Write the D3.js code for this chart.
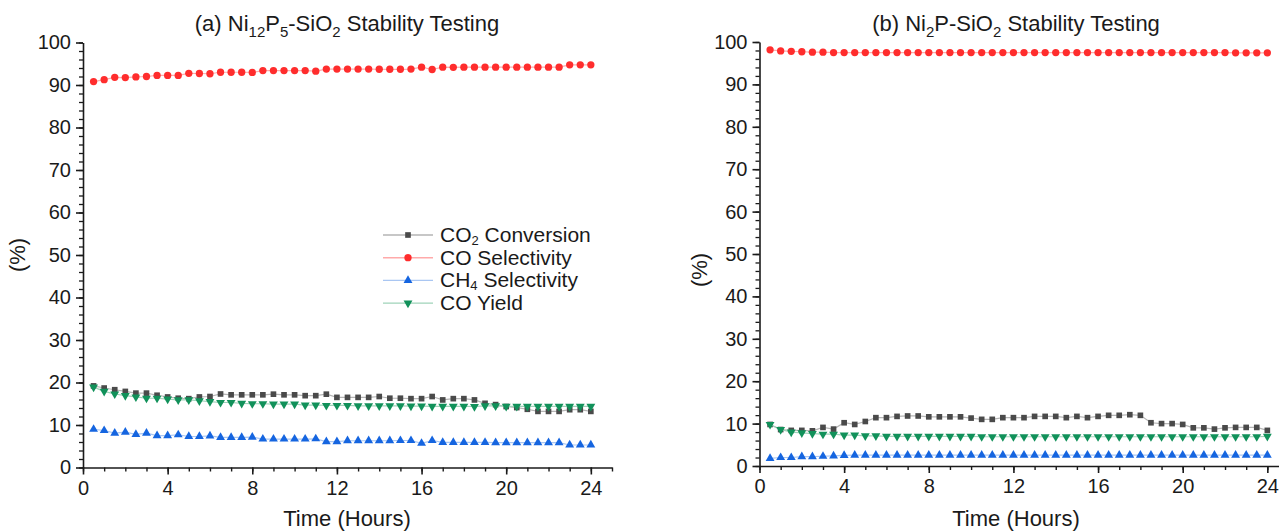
<!DOCTYPE html>
<html>
<head>
<meta charset="utf-8">
<script src="https://cdn.jsdelivr.net/npm/d3@7/dist/d3.min.js"></script>
<style>
  html, body { margin: 0; padding: 0; background: #fff; }
  svg { display: block; font-family: "Liberation Sans", Arial, Helvetica, sans-serif; }
</style>
</head>
<body>
<svg id="chart" width="1279" height="532"></svg>
<script>
// Sampling times (hours) shared by both stability runs
const hours = [0.5, 1, 1.5, 2, 2.5, 3, 3.5, 4, 4.5, 5, 5.5, 6, 6.5, 7, 7.5, 8,
  8.5, 9, 9.5, 10, 10.5, 11, 11.5, 12, 12.5, 13, 13.5, 14, 14.5, 15, 15.5, 16,
  16.5, 17, 17.5, 18, 18.5, 19, 19.5, 20, 20.5, 21, 21.5, 22, 22.5, 23, 23.5, 24];

const xTicks = [0, 4, 8, 12, 16, 20, 24];
const yTicks = [0, 10, 20, 30, 40, 50, 60, 70, 80, 90, 100];

// (a) Ni12P5-SiO2
const aCO2Conversion = [19.2, 18.7, 18.3, 17.9, 17.5, 17.5, 17.0, 16.6, 16.3, 16.2, 16.6, 16.7,
  17.3, 17.1, 17.1, 17.1, 17.1, 17.25, 17.1, 17.1, 16.9, 16.9, 17.25, 16.5,
  16.5, 16.5, 16.5, 16.7, 16.3, 16.3, 16.2, 16.2, 16.7, 15.9, 16.2, 16.2,
  15.9, 15.1, 14.8, 14.35, 14.1, 13.7, 13.2, 13.2, 13.2, 13.6, 13.6, 13.2];
const aCOSelectivity = [90.8, 91.25, 91.8, 91.75, 91.9, 92.0, 92.25, 92.25, 92.25, 92.75, 92.7, 92.65,
  93.0, 93.0, 93.0, 92.95, 93.4, 93.4, 93.4, 93.4, 93.4, 93.25, 93.75, 93.75,
  93.75, 93.75, 93.75, 93.7, 93.7, 93.7, 93.75, 94.2, 93.65, 94.2, 94.15, 94.2,
  94.2, 94.2, 94.2, 94.2, 94.2, 94.2, 94.2, 94.2, 94.2, 94.75, 94.75, 94.75];
const aCH4Selectivity = [9.0, 8.7, 8.1, 8.3, 7.8, 8.1, 7.5, 7.5, 7.7, 7.3, 7.3, 7.45,
  7.1, 7.1, 7.1, 7.15, 6.7, 6.7, 6.7, 6.7, 6.7, 6.75, 6.1, 6.1,
  6.3, 6.3, 6.3, 6.3, 6.3, 6.35, 6.35, 5.7, 6.35, 5.9, 5.9, 5.9,
  5.9, 5.9, 5.85, 5.85, 5.85, 5.85, 5.85, 5.85, 5.85, 5.3, 5.3, 5.3];
const aCOYield = [18.9, 17.9, 17.3, 16.9, 16.6, 16.3, 16.3, 16.1, 15.9, 15.9, 15.7, 15.5,
  15.3, 15.3, 15.1, 15.0, 15.0, 14.9, 14.9, 14.9, 14.7, 14.7, 14.6, 14.6,
  14.6, 14.5, 14.5, 14.5, 14.5, 14.5, 14.45, 14.45, 14.4, 14.4, 14.4, 14.4,
  14.35, 14.5, 14.5, 14.4, 14.4, 14.4, 14.4, 14.4, 14.4, 14.4, 14.4, 14.4];

// (b) Ni2P-SiO2
const bCO2Conversion = [9.8, 8.6, 8.4, 8.4, 8.3, 9.1, 8.7, 10.2, 9.8, 10.5, 11.4, 11.4,
  11.7, 11.8, 11.8, 11.6, 11.6, 11.6, 11.6, 11.3, 11.0, 11.0, 11.4, 11.4,
  11.4, 11.7, 11.7, 11.7, 11.4, 11.7, 11.4, 11.7, 11.95, 11.95, 12.1, 11.95,
  10.2, 10.0, 10.0, 9.8, 9.0, 9.0, 8.7, 9.0, 9.1, 9.1, 9.1, 8.4];
const bCOSelectivity = [98.15, 97.9, 97.8, 97.7, 97.6, 97.6, 97.5, 97.5, 97.5, 97.5, 97.5, 97.5,
  97.5, 97.5, 97.5, 97.5, 97.5, 97.5, 97.5, 97.5, 97.5, 97.5, 97.5, 97.5,
  97.5, 97.5, 97.5, 97.5, 97.5, 97.5, 97.5, 97.5, 97.5, 97.5, 97.5, 97.5,
  97.5, 97.5, 97.5, 97.5, 97.5, 97.5, 97.5, 97.5, 97.45, 97.45, 97.45, 97.45];
const bCH4Selectivity = [1.8, 2.0, 2.0, 2.2, 2.2, 2.3, 2.4, 2.5, 2.55, 2.55, 2.55, 2.55,
  2.55, 2.55, 2.55, 2.55, 2.55, 2.55, 2.55, 2.55, 2.55, 2.55, 2.55, 2.55,
  2.55, 2.55, 2.55, 2.55, 2.55, 2.55, 2.55, 2.55, 2.55, 2.55, 2.55, 2.55,
  2.55, 2.55, 2.55, 2.55, 2.55, 2.55, 2.55, 2.55, 2.55, 2.55, 2.55, 2.55];
const bCOYield = [9.8, 8.6, 8.0, 7.8, 7.65, 7.5, 7.5, 7.3, 7.3, 7.1, 7.1, 7.0,
  7.0, 7.0, 7.0, 7.0, 7.0, 7.0, 7.0, 7.0, 6.9, 6.9, 6.9, 6.9,
  6.9, 6.9, 6.9, 6.9, 6.9, 6.9, 6.9, 6.9, 6.9, 6.9, 6.9, 6.9,
  6.9, 6.9, 6.9, 6.9, 6.9, 6.9, 6.9, 6.9, 6.9, 6.9, 6.9, 7.0];

// Series appearance: marker symbol, marker fill, connecting-line colour
const seriesStyle = [
  { key: "co2", label: ["CO", "2", " Conversion"], symbol: d3.symbolSquare, size: 32, fill: "#4a4a4a", line: "#b5b5b5" },
  { key: "cos", label: ["CO Selectivity"], symbol: d3.symbolCircle, size: 42, fill: "#ff2d2d", line: "#ffaaaa" },
  { key: "ch4", label: ["CH", "4", " Selectivity"], symbol: d3.symbolTriangle, size: 34, fill: "#1565e0", line: "#a9c6f2" },
  { key: "coy", label: ["CO Yield"], symbol: "down", size: 34, fill: "#11915a", line: "#9fd3b9" }
];

const svg = d3.select("#chart");
const INK = "#1a1a1a";

function symbolPath(st) {
  if (st.symbol === "down") {
    return { d: d3.symbol(d3.symbolTriangle, st.size)(), rotate: 180 };
  }
  return { d: d3.symbol(st.symbol, st.size)(), rotate: 0 };
}

function richText(sel, parts, size) {
  // parts: [main, subscript, rest] or [main]
  sel.append("tspan").text(parts[0]);
  if (parts.length > 1) {
    sel.append("tspan").attr("font-size", 13).attr("dy", 3).text(parts[1]);
    sel.append("tspan").attr("dy", -3).text(parts[2]);
  }
}

function drawPanel(p) {
  const x = d3.scaleLinear().domain([0, 25]).range([p.x0, p.x1]);
  const y = d3.scaleLinear().domain([0, 100]).range([p.y0, p.y1]);
  const g = svg.append("g");

  // Title with subscripts
  const title = g.append("text")
    .attr("x", p.titleX).attr("y", 31)
    .attr("text-anchor", "middle").attr("font-size", 22).attr("fill", INK);
  p.title.forEach((seg) => {
    if (seg.sub) {
      title.append("tspan").attr("font-size", 15).attr("dy", 6).text(seg.t);
    } else {
      title.append("tspan").attr("dy", seg.after ? -6 : 0).text(seg.t);
    }
  });

  // X axis: major ticks every 4 h, minor every hour
  const xAxis = d3.axisBottom(x).tickValues(xTicks).tickSize(7).tickSizeOuter(0).tickPadding(6)
    .tickFormat(d3.format("d"));
  const xMinor = d3.axisBottom(x).tickValues(d3.range(0, 26, 1)).tickSize(4).tickFormat("").tickSizeOuter(0);
  g.append("g").attr("transform", `translate(0,${p.y0})`).call(xMinor)
    .call(s => s.select(".domain").remove())
    .call(s => s.selectAll("line").attr("stroke", INK).attr("stroke-width", 1.4));
  const gx = g.append("g").attr("transform", `translate(0,${p.y0})`).call(xAxis);
  gx.select(".domain").attr("stroke", INK).attr("stroke-width", 1.6);
  gx.selectAll("line").attr("stroke", INK).attr("stroke-width", 1.6);
  gx.selectAll("text").attr("font-size", 20).attr("fill", INK).attr("font-family", null);

  // Y axis: major every 10 %, minor every 2 %
  const yAxis = d3.axisLeft(y).tickValues(yTicks).tickSize(7).tickSizeOuter(0).tickPadding(5);
  const yMinor = d3.axisLeft(y).tickValues(d3.range(0, 101, 2)).tickSize(4).tickFormat("").tickSizeOuter(0);
  g.append("g").attr("transform", `translate(${p.x0},0)`).call(yMinor)
    .call(s => s.select(".domain").remove())
    .call(s => s.selectAll("line").attr("stroke", INK).attr("stroke-width", 1.3));
  const gy = g.append("g").attr("transform", `translate(${p.x0},0)`).call(yAxis);
  gy.select(".domain").attr("stroke", INK).attr("stroke-width", 1.6);
  gy.selectAll("line").attr("stroke", INK).attr("stroke-width", 1.6);
  gy.selectAll("text").attr("font-size", 20).attr("fill", INK).attr("font-family", null);

  // Axis titles
  g.append("text").attr("x", p.titleX).attr("y", 526).attr("text-anchor", "middle")
    .attr("font-size", 22).attr("fill", INK).text("Time (Hours)");
  g.append("text").attr("transform", `translate(${p.yLabelX},${p.yLabelY}) rotate(-90)`)
    .attr("text-anchor", "middle").attr("font-size", 22).attr("fill", INK).text("(%)");

  // Series: thin connecting line + markers
  const line = d3.line().x((d, i) => x(hours[i])).y(d => y(d));
  seriesStyle.forEach((st) => {
    const vals = p.series[st.key];
    g.append("path").datum(vals).attr("d", line)
      .attr("fill", "none").attr("stroke", st.line).attr("stroke-width", 1.2);
    const sp = symbolPath(st);
    g.append("g").selectAll("path").data(vals).join("path")
      .attr("d", sp.d)
      .attr("transform", (d, i) => `translate(${x(hours[i])},${y(d)}) rotate(${sp.rotate})`)
      .attr("fill", st.fill);
  });

  return { x, y, g };
}

drawPanel({
  x0: 83, x1: 612, y0: 467.5, y1: 42.5, titleX: 347,
  yLabelX: 25, yLabelY: 255,
  title: [{ t: "(a) Ni" }, { t: "12", sub: true }, { t: "P", after: true }, { t: "5", sub: true },
          { t: "-SiO", after: true }, { t: "2", sub: true }, { t: " Stability Testing", after: true }],
  series: { co2: aCO2Conversion, cos: aCOSelectivity, ch4: aCH4Selectivity, coy: aCOYield }
});

drawPanel({
  x0: 759.5, x1: 1288.5, y0: 466, y1: 42, titleX: 1016,
  yLabelX: 707, yLabelY: 270,
  title: [{ t: "(b) Ni" }, { t: "2", sub: true }, { t: "P-SiO", after: true }, { t: "2", sub: true },
          { t: " Stability Testing", after: true }],
  series: { co2: bCO2Conversion, cos: bCOSelectivity, ch4: bCH4Selectivity, coy: bCOYield }
});

// Legend inside panel (a)
const legend = svg.append("g");
const legendFont = 21;
seriesStyle.forEach((st, i) => {
  const cy = 235 + i * 22.7;
  legend.append("line").attr("x1", 383).attr("x2", 433).attr("y1", cy).attr("y2", cy)
    .attr("stroke", st.line).attr("stroke-width", 1.4);
  const sp = symbolPath(st);
  legend.append("path").attr("d", sp.d)
    .attr("transform", `translate(408,${cy}) rotate(${sp.rotate})`).attr("fill", st.fill);
  const t = legend.append("text").attr("x", 440).attr("y", cy + 7)
    .attr("font-size", legendFont).attr("fill", INK);
  richText(t, st.label, legendFont);
});
</script>
</body>
</html>
